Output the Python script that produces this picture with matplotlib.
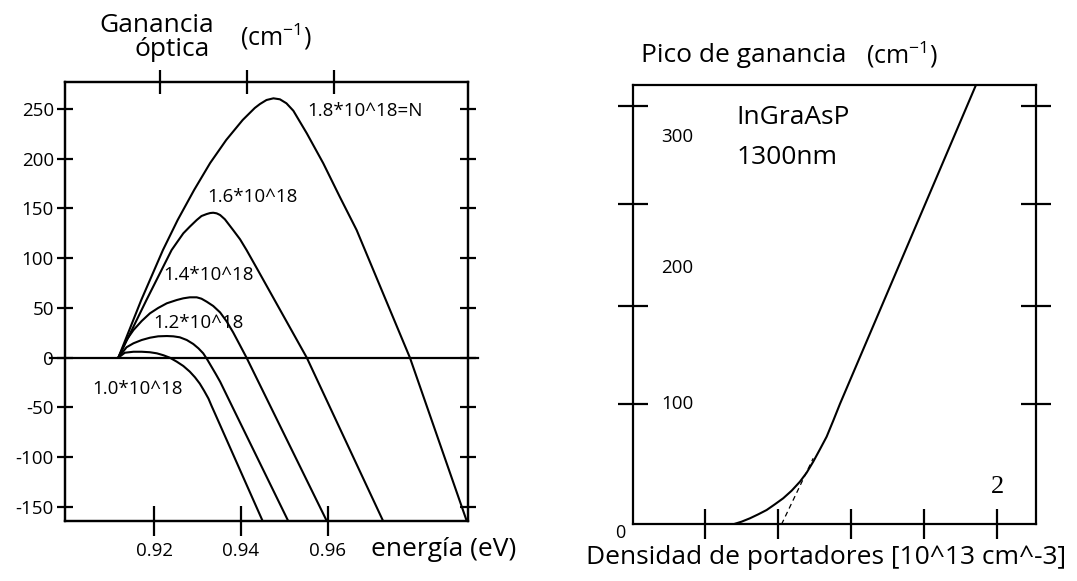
import matplotlib
matplotlib.use('Agg')
import matplotlib.pyplot as plt
from matplotlib.transforms import blended_transform_factory

plt.rcParams['font.family'] = ['Open Sans', 'DejaVu Sans']
plt.rcParams['mathtext.fontset'] = 'custom'
plt.rcParams['mathtext.rm'] = 'Open Sans'
plt.rcParams['mathtext.it'] = 'Open Sans:italic'
plt.rcParams['mathtext.bf'] = 'Open Sans:bold'

# ---------------- Left panel data: optical gain vs energy ----------------
energy_ticks = [0.92, 0.94, 0.96]
energy_tick_labels = ['0.92', '0.94', '0.96']
energy_top_ticks = [0.9214, 0.9415, 0.9614]
gain_ticks = [250, 200, 150, 100, 50, 0, -50, -100, -150]
gain_tick_labels = ['250', '200', '150', '100', '50', '0', '-50', '-100', '-150']

e_10 = [0.9117, 0.9132, 0.9152, 0.9171, 0.9190, 0.9206, 0.9221, 0.9236, 0.9252, 0.9267,
        0.9282, 0.9294, 0.9305, 0.9315, 0.9325, 0.9332, 0.9340, 0.9450]
g_10 = [0, 5.0, 6.0, 6.0, 5.5, 4.4, 2.5, 0, -4, -8.3,
        -14, -19.7, -26, -33.2, -41, -48.2, -56, -164]

e_12 = [0.9117, 0.9136, 0.9152, 0.9171, 0.9190, 0.9209, 0.9229, 0.9244, 0.9259, 0.9275,
        0.9290, 0.9302, 0.9313, 0.9322, 0.9332, 0.9342, 0.9352, 0.9382, 0.9444, 0.9509]
g_12 = [0, 10.5, 14.5, 17.8, 20.1, 21.5, 21.8, 21.5, 20.5, 17.8,
        13.8, 9.4, 4.4, -1.6, -9.0, -16.4, -24.1, -50.9, -106.1, -164]

e_14 = [0.9117, 0.9136, 0.9152, 0.9171, 0.9190, 0.9209, 0.9229, 0.9252, 0.9267, 0.9282,
        0.9298, 0.9309, 0.9321, 0.9336, 0.9352, 0.9367, 0.9382, 0.9397, 0.9413, 0.9598]
g_14 = [0, 17.8, 27.8, 36.9, 44.6, 50.0, 54.7, 58.0, 59.7, 60.7,
        60.7, 59.3, 56.3, 52.0, 45.5, 36.5, 25.5, 13.2, 0, -164]

e_16 = [0.9117, 0.9182, 0.9240, 0.9267, 0.9282, 0.9298, 0.9309, 0.9321, 0.9329, 0.9336,
        0.9344, 0.9352, 0.9363, 0.9382, 0.9398, 0.9413, 0.9439, 0.9552, 0.9728]
g_16 = [0, 58, 108.2, 125.0, 131.7, 138.4, 142.4, 144.4, 145.4, 145.7,
        145.1, 143.4, 139.1, 128.3, 119.0, 108.2, 88.1, 0, -164]

e_18 = [0.9117, 0.9170, 0.9220, 0.9254, 0.9292, 0.9329, 0.9366, 0.9404, 0.9432, 0.9444,
        0.9459, 0.9475, 0.9490, 0.9505, 0.9521, 0.9536, 0.9552, 0.9590, 0.9628, 0.9667,
        0.9790, 0.9921]
g_18 = [0, 58.0, 108.2, 138.4, 168.6, 195.7, 218.8, 238.9, 251.0, 255.0,
        259.0, 260.7, 259.7, 255.7, 248.2, 237.2, 225.5, 195.4, 161.8, 128.3,
        0, -164]

curve_labels = ['1.0*10^18', '1.2*10^18', '1.4*10^18', '1.6*10^18', '1.8*10^18=N']
curve_label_x = [0.9056, 0.9198, 0.9221, 0.9322, 0.9552]
curve_label_y = [-31.5, 34.6, 83.1, 161.8, 248.2]

# ---------------- Right panel data: peak gain vs carrier density ----------------
dens_ticks = [0.4, 0.8, 1.2, 1.6, 2.0]
peak_tick_marks = [100, 182, 267, 349]
peak_label_pos = [100, 214, 323]
peak_labels = ['100', '200', '300']

density = [0.5567, 0.6026, 0.6480, 0.6934, 0.7394, 0.7848, 0.8302, 0.8761, 0.9215, 0.9582,
           0.9943, 1.0310, 1.0676, 1.1037, 1.1404, 1.8844]
peak_gain = [0, 2.2, 5.0, 8.3, 11.9, 16.7, 21.7, 28.0, 35.5, 43.0,
             52.2, 62.5, 73.0, 86.3, 100.3, 366.1]

dash_density = [0.821, 0.994]
dash_gain = [0, 55]

fig = plt.figure(figsize=(10.77, 5.81), dpi=100)

# ===== Left panel =====
ax = fig.add_axes([0.06035, 0.10379, 0.37419, 0.75559])
ax.set_xlim(0.8994, 0.9924)
ax.set_ylim(-163.8, 277.4)
for s in ax.spines.values():
    s.set_linewidth(1.6)
for e, g in [(e_10, g_10), (e_12, g_12), (e_14, g_14), (e_16, g_16), (e_18, g_18)]:
    ax.plot(e, g, color='black', lw=1.5, solid_capstyle='butt', solid_joinstyle='round')
ax.axhline(0, xmin=-0.037, xmax=1.025, color='black', lw=1.6, clip_on=False)

ax.set_xticks(energy_ticks)
ax.set_xticklabels(energy_tick_labels, fontsize=13.5)
ax.set_yticks(gain_ticks)
ax.set_yticklabels(gain_tick_labels, fontsize=13.5)
ax.tick_params(axis='x', direction='inout', length=21, width=1.6, pad=5)
ax.tick_params(axis='y', direction='inout', length=12, width=1.6, pad=2, right=True)

ax_top = ax.twiny()
ax_top.set_xlim(ax.get_xlim())
ax_top.set_xticks(energy_top_ticks)
ax_top.set_xticklabels([])
ax_top.tick_params(axis='x', direction='inout', length=17, width=1.6)
for s in ax_top.spines.values():
    s.set_linewidth(1.6)

for lab, x, y in zip(curve_labels, curve_label_x, curve_label_y):
    ax.text(x, y, lab, fontsize=13.5, ha='left', va='center')

fig.text(157 / 1077, 1 - 25 / 581, 'Ganancia', fontsize=19, ha='center', va='center')
fig.text(172 / 1077, 1 - 50 / 581, 'óptica', fontsize=19, ha='center', va='center')
fig.text(276 / 1077, 1 - 37 / 581, r'(cm$^{-1}$)', fontsize=18, ha='center', va='center')
fig.text(444 / 1077, 1 - 550 / 581, 'energía (eV)', fontsize=19, ha='center', va='center')

# ===== Right panel =====
ax2 = fig.add_axes([0.5880, 0.09759, 0.37363, 0.75611])
ax2.set_xlim(0.01, 2.211)
ax2.set_ylim(0, 366.1)
for s in ax2.spines.values():
    s.set_linewidth(1.6)
ax2.plot(density, peak_gain, color='black', lw=1.5, solid_joinstyle='round')
ax2.plot(dash_density, dash_gain, color='black', lw=0.9, ls=(0, (4, 3)))

ax2.set_xticks(dens_ticks)
ax2.set_xticklabels([])
ax2.set_yticks(peak_tick_marks)
ax2.set_yticklabels([])
ax2.tick_params(axis='x', direction='inout', length=21, width=1.6)
ax2.tick_params(axis='y', direction='inout', length=21, width=1.6, right=True)

tr = blended_transform_factory(ax2.transAxes, ax2.transData)
for lab, y in zip(peak_labels, peak_label_pos):
    ax2.text(0.07, y, lab, fontsize=13.5, ha='left', va='center', transform=tr)
ax2.text(2.0, 31, '2', fontsize=19, ha='center', va='center', family=['Liberation Serif'])
fig.text(620 / 1077, 1 - 533 / 581, '0', fontsize=13, ha='center', va='center')

ax2.text(0.257, 0.925, 'InGraAsP', fontsize=19, ha='left', va='center', transform=ax2.transAxes)
ax2.text(0.257, 0.836, '1300nm', fontsize=19, ha='left', va='center', transform=ax2.transAxes)

fig.text(641 / 1077, 1 - 55 / 581, 'Pico de ganancia', fontsize=19, ha='left', va='center')
fig.text(902 / 1077, 1 - 55 / 581, r'(cm$^{-1}$)', fontsize=18, ha='center', va='center')
fig.text(826 / 1077, 1 - 558 / 581, 'Densidad de portadores [10^13 cm^-3]', fontsize=19,
         ha='center', va='center')

fig.savefig('out.png', dpi=100, facecolor='white')
